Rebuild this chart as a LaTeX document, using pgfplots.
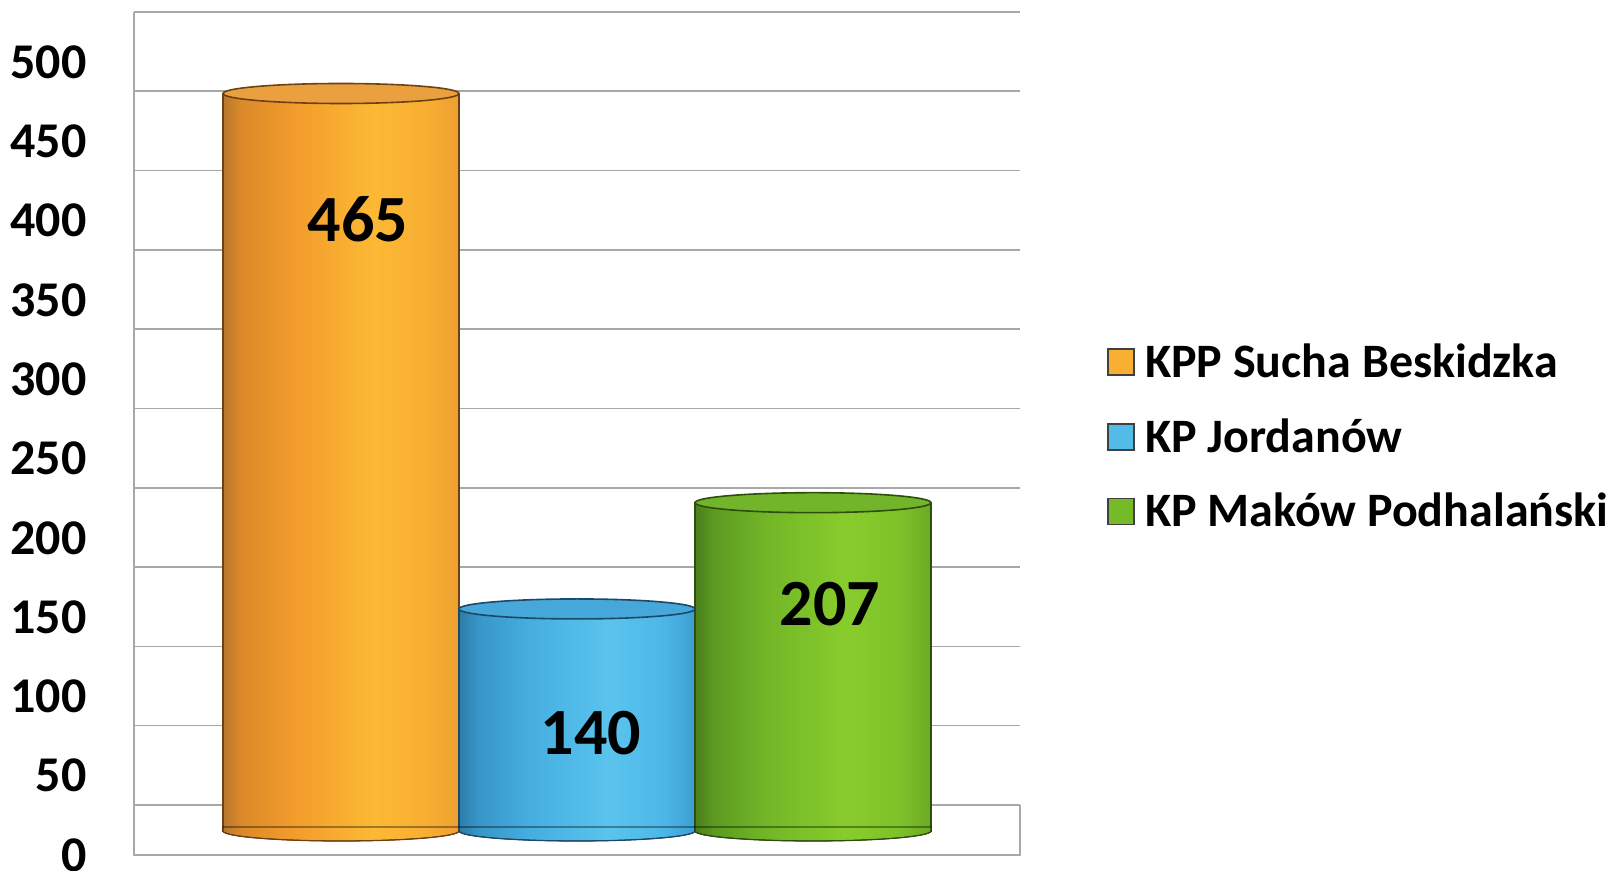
\documentclass[border=0pt]{standalone}
\usepackage{fontspec}
\setmainfont{Carlito}
\usepackage{pgfplots}
\pgfplotsset{compat=1.18}

% cylinder colours: top, outline
\definecolor{orT}{HTML}{EBA040}\definecolor{orK}{HTML}{6E4210}
\definecolor{blT}{HTML}{46A8DA}\definecolor{blK}{HTML}{1C4A66}
\definecolor{grT}{HTML}{72B42A}\definecolor{grK}{HTML}{2E4E0E}
\definecolor{gridc}{HTML}{A8A8A8}
% body stops, left edge to right edge
\definecolor{or1}{HTML}{B8772C}\definecolor{or2}{HTML}{DC8A2A}\definecolor{or3}{HTML}{F29C2C}
\definecolor{or4}{HTML}{FCB934}\definecolor{or5}{HTML}{F8AE32}\definecolor{or6}{HTML}{EDA030}
\definecolor{bl1}{HTML}{2C7CA8}\definecolor{bl2}{HTML}{3895C8}\definecolor{bl3}{HTML}{45AEE0}
\definecolor{bl4}{HTML}{5AC4EE}\definecolor{bl5}{HTML}{4DB8E8}\definecolor{bl6}{HTML}{3C9ED2}
\definecolor{gr1}{HTML}{4A7E1C}\definecolor{gr2}{HTML}{5C9A20}\definecolor{gr3}{HTML}{72B628}
\definecolor{gr4}{HTML}{88CC2C}\definecolor{gr5}{HTML}{7EC22A}\definecolor{gr6}{HTML}{6CAA24}

% round look of the cylinder bodies (25bp..75bp = bar width)
\newcommand\cylshade[1]{%
  \pgfdeclarehorizontalshading{#1shade}{100bp}{%
    color(0bp)=(#11);color(25bp)=(#11);color(29bp)=(#12);color(40bp)=(#13);
    color(57bp)=(#14);color(68bp)=(#15);color(75bp)=(#16);color(100bp)=(#16)}}
\cylshade{or}\cylshade{bl}\cylshade{gr}

% top and bottom ends of a cylinder, 118pt wide
\newcommand\cylmarks[3]{%
  \pgfdeclareplotmark{top#1}{%
    \path[fill=#2, draw=#3, line width=0.8pt] (0pt,0pt) ellipse [x radius=59pt, y radius=5pt];}%
  \pgfdeclareplotmark{bot#1}{%
    \path[shading=#1shade] (-59pt,2pt) -- (-59pt,0pt)
      arc[start angle=180, end angle=360, x radius=59pt, y radius=5pt] -- (59pt,2pt) -- cycle;
    \draw[#3, line width=0.6pt] (-59pt,0pt) arc[start angle=180, end angle=360, x radius=59pt, y radius=5pt];}%
}
\cylmarks{or}{orT}{orK}
\cylmarks{bl}{blT}{blK}
\cylmarks{gr}{grT}{grK}

\newcommand\lbl{\fontsize{33}{36}\selectfont\bfseries}

\begin{document}
\begin{tikzpicture}
\begin{axis}[
  at={(0,0)}, anchor=south west,
  scale only axis, width=443pt, height=396.5pt,
  xmin=-1.8771, xmax=1.8771, ymin=0, ymax=500,
  clip=false,
  xtick=\empty,
  ytick={0,50,...,500},
  /pgf/number format/assume math mode=true,
  yticklabel style={font=\fontsize{25}{30}\selectfont\bfseries, inner sep=0pt, xshift=-23.5pt, yshift=-12pt},
  axis line style={draw=none},
  major tick length=0pt,
  ymajorgrids,
  grid style={draw=gridc, line width=0.8pt, yshift=13pt},
  bar shift=0pt,
  legend image code/.code={\draw[#1] (0pt,-6.5pt) rectangle (13pt,6.5pt); \path (16pt,0pt);},
  legend style={at={(1.098,0.497)}, anchor=west, draw=none, fill=none, inner sep=0pt,
    font=\fontsize{24}{28}\selectfont\bfseries, row sep=15pt},
  legend cell align=left,
]
% floor and side wall
\draw[gridc, line width=0.8pt] ([yshift=13pt]rel axis cs:0,1) -- ([yshift=-12pt]rel axis cs:0,0)
  -- ([yshift=-12pt]rel axis cs:1,0) -- ([yshift=13pt]rel axis cs:1,0);

% KPP Sucha Beskidzka
\addplot[ybar, bar width=1, shading=orshade, draw=orK, line width=0.6pt, forget plot]
  coordinates {(-1,465)};
\addplot[only marks, mark=botor, forget plot] coordinates {(-1,0)};
\addplot[only marks, mark=topor, forget plot, nodes near coords,
  nodes near coords style={anchor=center, xshift=8.5pt, yshift=-63pt, font=\lbl, text=black}]
  coordinates {(-1,465)};

% KP Jordanow
\addplot[ybar, bar width=1, shading=blshade, draw=blK, line width=0.6pt, forget plot]
  coordinates {(0,140)};
\addplot[only marks, mark=botbl, forget plot] coordinates {(0,0)};
\addplot[only marks, mark=topbl, forget plot, nodes near coords,
  nodes near coords style={anchor=center, xshift=7pt, yshift=-62pt, font=\lbl, text=black}]
  coordinates {(0,140)};

% KP Makow Podhalanski
\addplot[ybar, bar width=1, shading=grshade, draw=grK, line width=0.6pt, forget plot]
  coordinates {(1,207)};
\addplot[only marks, mark=botgr, forget plot] coordinates {(1,0)};
\addplot[only marks, mark=topgr, forget plot, nodes near coords,
  nodes near coords style={anchor=center, xshift=8.5pt, yshift=-50.5pt, font=\lbl, text=black}]
  coordinates {(1,207)};

\addlegendimage{fill=or4!70!or3, draw=black!75, line width=0.9pt}
\addlegendentry{KPP Sucha Beskidzka}
\addlegendimage{fill=bl4!60!bl3, draw=black!75, line width=0.9pt}
\addlegendentry{KP Jordanów}
\addlegendimage{fill=gr3!80!gr4, draw=black!75, line width=0.9pt}
\addlegendentry{KP Maków Podhalański}
\end{axis}
\pgfresetboundingbox
\path[use as bounding box] (-67pt,-20pt) rectangle (742.5pt,415.5pt);
\end{tikzpicture}
\end{document}
